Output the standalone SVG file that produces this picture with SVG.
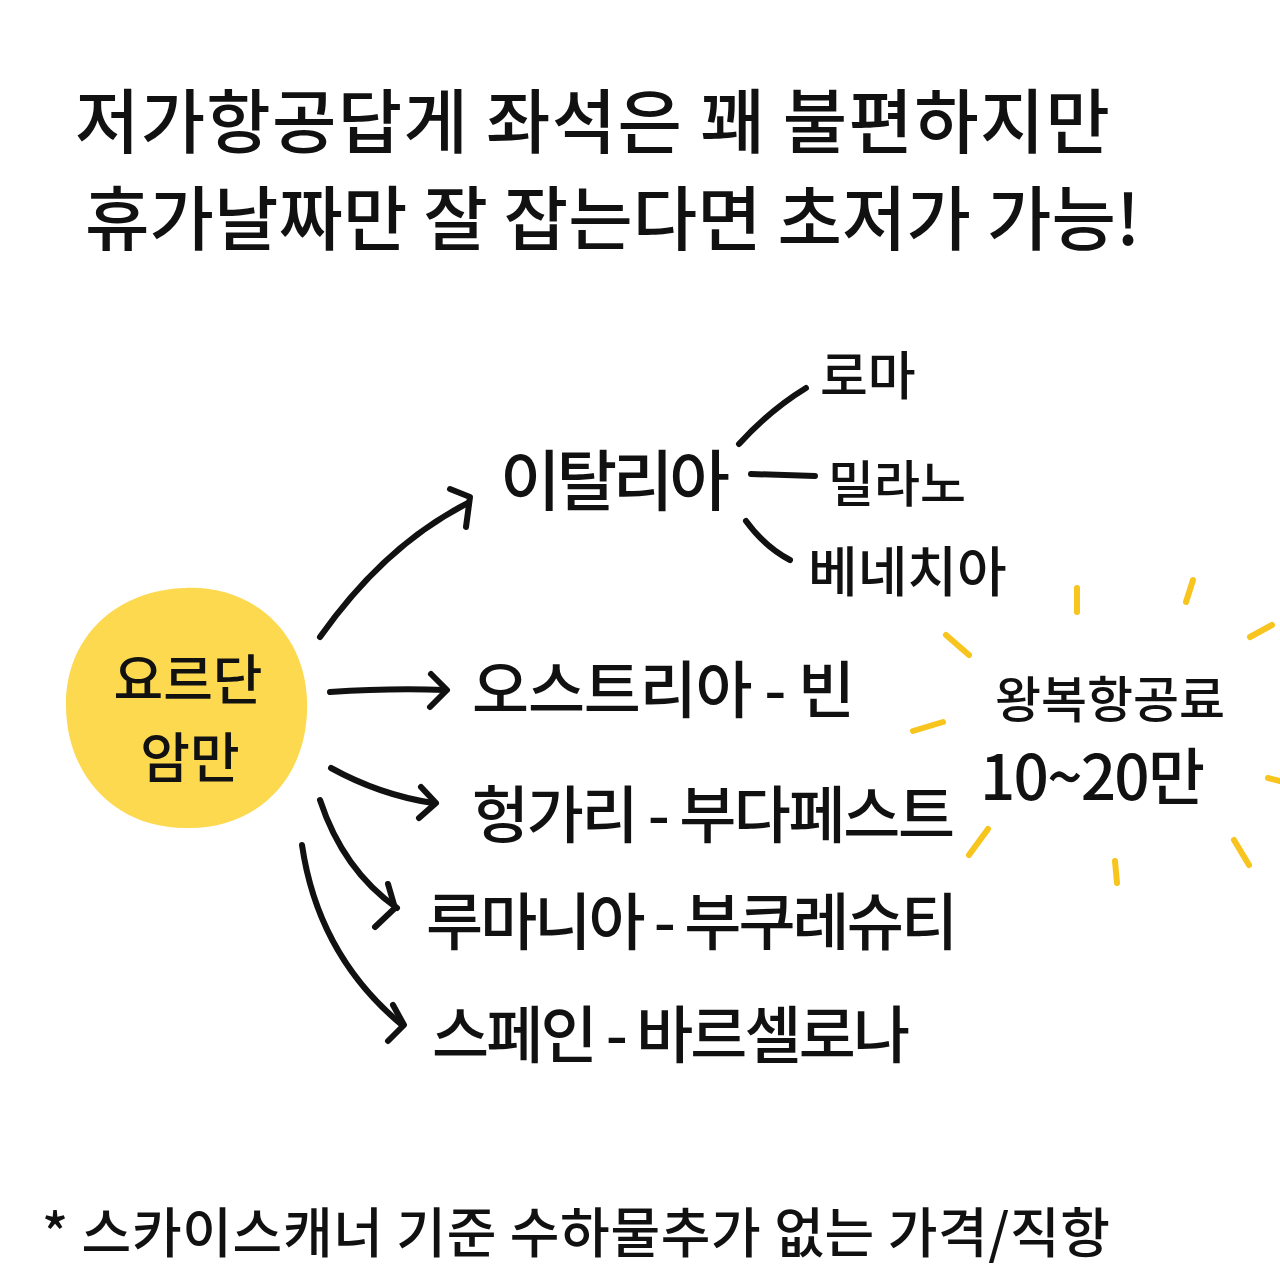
<svg xmlns="http://www.w3.org/2000/svg" width="1280" height="1280" viewBox="0 0 1280 1280">
<defs>
<style>
.t{font-family:"Noto Sans CJK KR","Noto Sans",sans-serif;font-weight:500;fill:#111;}
.ln{fill:none;stroke:#111;stroke-width:6;stroke-linecap:round;stroke-linejoin:round;}
.ray{fill:none;stroke:#F7C51E;stroke-width:6;stroke-linecap:round;}
</style>
</defs>
<rect width="1280" height="1280" fill="#ffffff"/>
<g id="title">
<text class="t" x="75" y="148" font-size="70" textLength="1035" lengthAdjust="spacing">저가항공답게 좌석은 꽤 불편하지만</text>
<text class="t" x="85" y="245" font-size="70" textLength="1055" lengthAdjust="spacing">휴가날짜만 잘 잡는다면 초저가 가능!</text>
</g>
<g id="node-amman">
<path d="M185,588 C255,585 305,635 307,700 C310,775 260,828 190,828 C115,830 66,775 66,705 C66,635 118,590 185,588 Z" fill="#FCD94F"/>
<text class="t" x="188" y="700" font-size="54" text-anchor="middle">요르단</text>
<text class="t" x="190" y="778" font-size="54" text-anchor="middle">암만</text>
</g>
<g id="connectors">
<path class="ln" d="M320,637 Q385,545 468,503"/>
<path class="ln" d="M450,489 L470,497 L466,527"/>
<path class="ln" d="M330,692 Q390,688 445,690"/>
<path class="ln" d="M431,674 L447,690 L430,707"/>
<path class="ln" d="M331,768 Q380,795 433,803"/>
<path class="ln" d="M421,787 L436,803 L419,818"/>
<path class="ln" d="M320,800 Q343,870 397,908"/>
<path class="ln" d="M388,884 L395,908 L375,927"/>
<path class="ln" d="M302,845 Q318,955 402,1025"/>
<path class="ln" d="M393,1005 L404,1025 L388,1041"/>
<path class="ln" d="M739,444 Q770,410 806,388"/>
<path class="ln" d="M751,474 L815,476"/>
<path class="ln" d="M746,521 Q765,547 790,560"/>
</g>
<g id="node-italy">
<text class="t" x="500" y="505" font-size="66" textLength="230" lengthAdjust="spacing">이탈리아</text>
</g>
<g id="node-rome">
<text class="t" x="820" y="395" font-size="52">로마</text>
</g>
<g id="node-milan">
<text class="t" x="828" y="502" font-size="50">밀라노</text>
</g>
<g id="node-venice">
<text class="t" x="808" y="592" font-size="54">베네치아</text>
</g>
<g id="node-austria">
<text class="t" x="472" y="713" font-size="62" textLength="383" lengthAdjust="spacing">오스트리아 - 빈</text>
</g>
<g id="node-hungary">
<text class="t" x="472" y="838" font-size="62" textLength="483" lengthAdjust="spacing">헝가리 - 부다페스트</text>
</g>
<g id="node-romania">
<text class="t" x="426" y="945" font-size="62" textLength="532" lengthAdjust="spacing">루마니아 - 부쿠레슈티</text>
</g>
<g id="node-spain">
<text class="t" x="432" y="1058" font-size="62" textLength="478" lengthAdjust="spacing">스페인 - 바르셀로나</text>
</g>
<g id="node-price">
<g>
<path class="ray" d="M1077,588 L1077,612"/>
<path class="ray" d="M1193,580 L1186,602"/>
<path class="ray" d="M1272,625 L1250,637"/>
<path class="ray" d="M946,635 L969,655"/>
<path class="ray" d="M913,731 L943,722"/>
<path class="ray" d="M1268,778 L1280,781"/>
<path class="ray" d="M988,829 L969,855"/>
<path class="ray" d="M1115,861 L1117,883"/>
<path class="ray" d="M1234,840 L1249,865"/>
</g>
<text class="t" x="995" y="718" font-size="50">왕복항공료</text>
<text class="t" x="980" y="800" font-size="62" textLength="225" lengthAdjust="spacing">10~20만</text>
</g>
<g id="footnote">
<text class="t" x="42" y="1253" font-size="54" textLength="1068" lengthAdjust="spacing">* 스카이스캐너 기준 수하물추가 없는 가격/직항</text>
</g>
</svg>
